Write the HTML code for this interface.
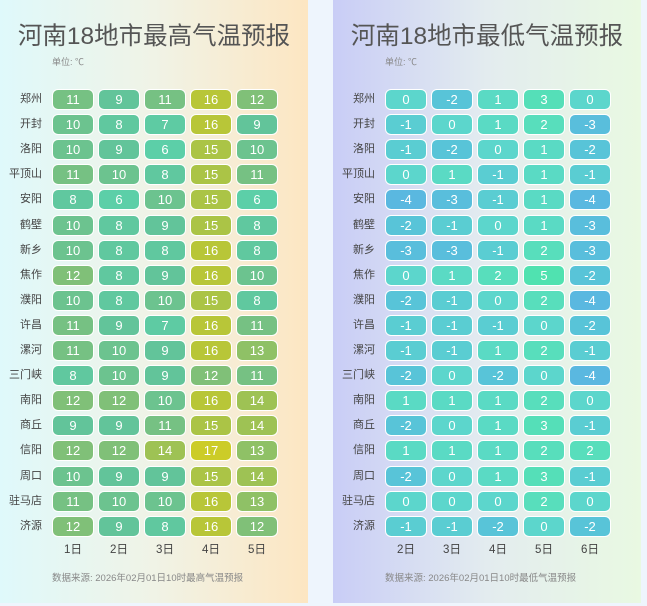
<!DOCTYPE html>
<html><head><meta charset="utf-8">
<style>
body{margin:0;width:647px;height:606px;background:#eef5fd;position:relative;overflow:hidden;font-family:"Liberation Sans","Noto Sans CJK SC",sans-serif}
.panel{position:absolute;top:0;height:603px;width:308px}
#p1{left:0;background:linear-gradient(90deg,#dff9fb,#f0f3e6 50%,#fde6c2)}
#p2{left:333px;background:linear-gradient(90deg,#c9cdf6,#e3ecef 50%,#e9f9e2)}
.title{position:absolute;top:17px;left:0;width:308px;text-align:center;font-size:24.5px;color:#555}
.unit{position:absolute;top:55px;left:52px;font-size:9px;color:#888}
.cell{position:absolute;width:40px;height:19px;border:1px solid #fff;border-radius:6px;color:#fff;font-size:13px;text-align:center;line-height:19px;box-sizing:content-box}
.lab{position:absolute;width:42px;text-align:right;font-size:11px;color:#444;line-height:20px}
.day{position:absolute;width:42px;text-align:center;font-size:11.5px;color:#444}
.src{position:absolute;top:570px;left:52px;font-size:9.5px;color:#888}
</style></head><body>
<div class="panel" id="p1">
<div class="title">河南18地市最高气温预报</div>
<div class="unit">单位: ℃</div>
<div class="src">数据来源: 2026年02月01日10时最高气温预报</div>
</div>
<div class="panel" id="p2">
<div class="title">河南18地市最低气温预报</div>
<div class="unit">单位: ℃</div>
<div class="src">数据来源: 2026年02月01日10时最低气温预报</div>
</div>
<script>
const cities=["郑州","开封","洛阳","平顶山","安阳","鹤壁","新乡","焦作","濮阳","许昌","漯河","三门峡","南阳","商丘","信阳","周口","驻马店","济源"];
const highDays=["1日","2日","3日","4日","5日"];
const lowDays=["2日","3日","4日","5日","6日"];
const highVals=[[11,9,11,16,12],[10,8,7,16,9],[10,9,6,15,10],[11,10,8,15,11],[8,6,10,15,6],[10,8,9,15,8],[10,8,8,16,8],[12,8,9,16,10],[10,8,10,15,8],[11,9,7,16,11],[11,10,9,16,13],[8,10,9,12,11],[12,12,10,16,14],[9,9,11,15,14],[12,12,14,17,13],[10,9,9,15,14],[11,10,10,16,13],[12,9,8,16,12]];
const lowVals=[[0,-2,1,3,0],[-1,0,1,2,-3],[-1,-2,0,1,-2],[0,1,-1,1,-1],[-4,-3,-1,1,-4],[-2,-1,0,1,-3],[-3,-3,-1,2,-3],[0,1,2,5,-2],[-2,-1,0,2,-4],[-1,-1,-1,0,-2],[-1,-1,1,2,-1],[-2,0,-2,0,-4],[1,1,1,2,0],[-2,0,1,3,-1],[1,1,1,2,2],[-2,0,1,3,-1],[0,0,0,2,0],[-1,-1,-2,0,-2]];
function lerp(a,b,t){return a.map((v,i)=>Math.round(v+(b[i]-v)*t));}
function scale(stops,v){for(let i=0;i<stops.length-1;i++){if(v<=stops[i+1][0]){const t=Math.max(0,(v-stops[i][0])/(stops[i+1][0]-stops[i][0]));return 'rgb('+lerp(stops[i][1],stops[i+1][1],t).join(',')+')';}}return 'rgb('+stops[stops.length-1][1].join(',')+')';}
const hiStops=[[6,[92,207,168]],[9,[98,196,154]],[12,[128,192,120]],[14,[158,194,84]],[16,[184,198,56]],[17,[204,204,40]]];
const loStops=[[-4,[90,184,224]],[-2,[88,196,216]],[0,[92,214,204]],[2,[88,222,188]],[5,[80,226,176]]];
const xCol=i=>52+i*46, yRow=r=>89+r*25.1;
function build(pid,vals,days,stops,nm){
 const p=document.getElementById(pid);
 cities.forEach((c,r)=>{
  const l=document.createElement('div');l.className='lab';l.textContent=c;
  
  
  l.style.left='0px';l.style.top=yRow(r)+'px';p.appendChild(l);
  vals[r].forEach((v,i)=>{
   const d=document.createElement('div');d.className='cell';d.textContent=v;
   
   
   d.style.left=xCol(i)+'px';d.style.top=yRow(r)+'px';d.style.background=scale(stops,v);p.appendChild(d);
  });
 });
 days.forEach((t,i)=>{
  const d=document.createElement('div');d.className='day';d.textContent=t;
  
  
  d.style.left=xCol(i)+'px';d.style.top='541px';p.appendChild(d);
 });
}
build('p1',highVals,highDays,hiStops,'high-temp');
build('p2',lowVals,lowDays,loStops,'low-temp');
</script>
</body></html>
